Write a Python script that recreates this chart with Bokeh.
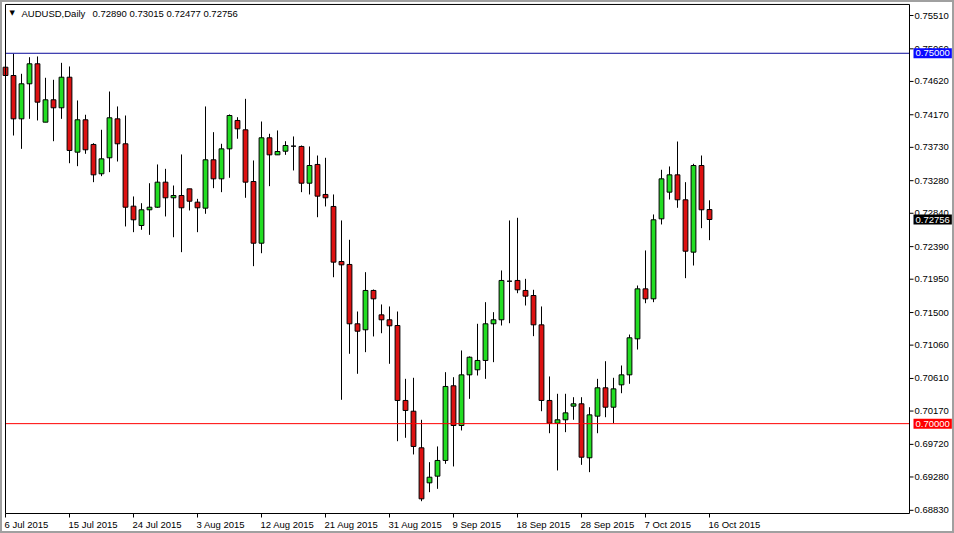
from bokeh.plotting import figure
from bokeh.models import ColumnDataSource, Range1d, Label
from bokeh.core.properties import value
from bokeh.embed import file_html
from bokeh.resources import INLINE

# ---------------- data (AUDUSD daily, 6 Jul 2015 - 16 Oct 2015, incl. Sunday bars) -------------
opens = [0.74812, 0.74700, 0.74115, 0.74588, 0.74858, 0.74070, 0.74372, 0.74264, 0.74677, 0.73665,
         0.74102, 0.73769, 0.73373, 0.73589, 0.74115, 0.73778, 0.72936, 0.72675, 0.72887, 0.72922,
         0.73260, 0.73049, 0.73080, 0.73170, 0.72990, 0.72909, 0.73562, 0.73305, 0.73710, 0.74093,
         0.73967, 0.73269, 0.72436, 0.73859, 0.73629, 0.73678, 0.73746, 0.73742, 0.73246, 0.73499,
         0.73094, 0.72932, 0.72189, 0.72149, 0.71348, 0.71267, 0.71798, 0.71469, 0.71402, 0.71325,
         0.70313, 0.70168, 0.69674, 0.69201, 0.69291, 0.69503, 0.70511, 0.69975, 0.70659, 0.70727,
         0.70853, 0.71348, 0.71402, 0.71923, 0.71933, 0.71798, 0.71730, 0.71334, 0.70313, 0.70006,
         0.70052, 0.70236, 0.70268, 0.69539, 0.70101, 0.70484, 0.70222, 0.70524, 0.70659, 0.71145,
         0.71820, 0.71685, 0.72765, 0.73125, 0.73359, 0.73022, 0.72315, 0.73485, 0.72890]
highs = [0.75321, 0.74993, 0.74723, 0.74947, 0.74957, 0.74669, 0.74642, 0.74871, 0.74822, 0.74363,
         0.74170, 0.73786, 0.73967, 0.74484, 0.74282, 0.74160, 0.73067, 0.72976, 0.73246, 0.73499,
         0.73440, 0.73215, 0.73634, 0.73170, 0.73035, 0.74282, 0.73935, 0.73778, 0.74174, 0.74137,
         0.74385, 0.73553, 0.74079, 0.73913, 0.73958, 0.73813, 0.73877, 0.73755, 0.73742, 0.73620,
         0.73589, 0.73094, 0.72743, 0.72482, 0.71514, 0.72045, 0.71811, 0.71609, 0.71582, 0.71514,
         0.70605, 0.70619, 0.70052, 0.69480, 0.69692, 0.70695, 0.70627, 0.70988, 0.70907, 0.71348,
         0.71640, 0.71505, 0.72068, 0.72743, 0.72779, 0.71955, 0.71807, 0.71582, 0.70637, 0.70403,
         0.70403, 0.70357, 0.70357, 0.70222, 0.70605, 0.70843, 0.70619, 0.70785, 0.71203, 0.71865,
         0.72338, 0.72824, 0.73427, 0.73472, 0.73809, 0.73260, 0.73508, 0.73620, 0.73015]
lows = [0.74633, 0.73890, 0.73710, 0.74115, 0.74093, 0.74070, 0.73813, 0.74115, 0.73516, 0.73476,
        0.73643, 0.73260, 0.73341, 0.73395, 0.73539, 0.72662, 0.72585, 0.72617, 0.72549, 0.72914,
        0.72797, 0.72517, 0.72315, 0.72878, 0.72585, 0.72833, 0.73179, 0.73125, 0.73319, 0.73846,
        0.73049, 0.72126, 0.72301, 0.73206, 0.73629, 0.73629, 0.73418, 0.73125, 0.73094, 0.72787,
        0.72932, 0.71977, 0.70322, 0.70943, 0.70673, 0.70965, 0.71177, 0.71221, 0.70808, 0.69763,
        0.69809, 0.69584, 0.68953, 0.69075, 0.69120, 0.69458, 0.69422, 0.69908, 0.70335, 0.70650,
        0.70605, 0.70830, 0.71325, 0.71356, 0.71761, 0.71595, 0.71181, 0.70168, 0.69871, 0.69368,
        0.69885, 0.70052, 0.69444, 0.69345, 0.69871, 0.70087, 0.70006, 0.70411, 0.70538, 0.71001,
        0.71626, 0.71640, 0.72689, 0.73026, 0.72914, 0.71964, 0.72135, 0.72639, 0.72477]
closes = [0.74700, 0.74115, 0.74588, 0.74858, 0.74340, 0.74372, 0.74264, 0.74677, 0.73688, 0.74102,
          0.73697, 0.73359, 0.73575, 0.74129, 0.73778, 0.72922, 0.72752, 0.72887, 0.72922, 0.73260,
          0.73049, 0.73080, 0.72914, 0.73003, 0.72914, 0.73562, 0.73305, 0.73710, 0.74160, 0.73980,
          0.73260, 0.72436, 0.73859, 0.73629, 0.73674, 0.73755, 0.73746, 0.73246, 0.73485, 0.73071,
          0.73049, 0.72180, 0.72144, 0.71348, 0.71248, 0.71798, 0.71685, 0.71402, 0.71321, 0.70313,
          0.70178, 0.69692, 0.68985, 0.69277, 0.69503, 0.70502, 0.69975, 0.70659, 0.70897, 0.70853,
          0.71348, 0.71402, 0.71933, 0.71923, 0.71807, 0.71721, 0.71334, 0.70313, 0.70006, 0.70052,
          0.70146, 0.70268, 0.69547, 0.70119, 0.70484, 0.70222, 0.70470, 0.70659, 0.71159, 0.71820,
          0.71685, 0.72752, 0.73305, 0.73359, 0.73022, 0.72328, 0.73485, 0.72887, 0.72756]

date_tick_idx = [0, 8, 16, 24, 32, 40, 48, 56, 64, 72, 80, 88]
date_tick_labels = ["6 Jul 2015", "15 Jul 2015", "24 Jul 2015", "3 Aug 2015", "12 Aug 2015",
                    "21 Aug 2015", "31 Aug 2015", "9 Sep 2015", "18 Sep 2015", "28 Sep 2015",
                    "7 Oct 2015", "16 Oct 2015"]
price_ticks = [0.75510, 0.75060, 0.74620, 0.74170, 0.73730, 0.73280, 0.72840, 0.72390,
               0.71950, 0.71500, 0.71060, 0.70610, 0.70170, 0.69720, 0.69280, 0.68830]
level_high = 0.75000
level_low = 0.70000
symbol_title = "AUDUSD,Daily"

# ---------------- layout / styling --------------------------------------------------------------
FONT = "Liberation Sans"
FS = "9.5px"
BULL = "#22dd22"
BEAR = "#dd1111"

# whole canvas is the plotting frame; the MetaTrader chart box is drawn inside it
X_LO, X_HI = -0.625, 118.625          # bar-index units (8 px per bar)
Y_LO, Y_HI = 0.68517, 0.757125        # price units
BOX_L, BOX_R = 0, 113                 # chart box edges (bar-index units)
BOX_B, BOX_T = 0.68787, 0.75659       # chart box edges (price units)
TICK_X = 0.5                          # 4 px tick length, in bar units
TICK_Y = 0.00054                      # 4 px tick length, in price units

idx = list(range(len(opens)))
src = ColumnDataSource(dict(
    idx=idx, open=opens, high=highs, low=lows, close=closes,
    top=[max(o, c) for o, c in zip(opens, closes)],
    bottom=[min(o, c) for o, c in zip(opens, closes)],
    color=[BULL if c >= o else BEAR for o, c in zip(opens, closes)],
))

p = figure(width=954, height=533, output_backend="svg", toolbar_location=None,
           x_range=Range1d(X_LO, X_HI), y_range=Range1d(Y_LO, Y_HI),
           x_axis_location=None, y_axis_location=None, min_border=0)
p.grid.visible = False
p.outline_line_color = "#a0a0a0"
p.outline_line_width = 3
p.background_fill_color = "white"
p.border_fill_color = "white"

# candles
p.segment(x0="idx", y0="low", x1="idx", y1="high", source=src, line_color="black", line_width=1)
p.vbar(x="idx", width=0.6, top="top", bottom="bottom", source=src,
       fill_color="color", line_color="black", line_width=1)

# horizontal levels across the chart box
p.segment(x0=[BOX_L], x1=[BOX_R], y0=[level_high], y1=[level_high], line_color="#0a0a9a", line_width=1)
p.segment(x0=[BOX_L], x1=[BOX_R], y0=[level_low], y1=[level_low], line_color="#ff0000", line_width=1)

# chart box
p.quad(left=[BOX_L], right=[BOX_R], bottom=[BOX_B], top=[BOX_T],
       fill_color=None, line_color="black", line_width=1)

# price scale (right)
p.segment(x0=[BOX_R] * len(price_ticks), x1=[BOX_R + TICK_X] * len(price_ticks),
          y0=price_ticks, y1=price_ticks, line_color="black", line_width=1)
p.text(x=[BOX_R] * len(price_ticks), y=price_ticks, text=["%.5f" % t for t in price_ticks],
       x_offset=5, text_align="left", text_baseline="middle",
       text_font=value(FONT), text_font_size=value(FS), text_color="black")

# time scale (bottom)
p.segment(x0=date_tick_idx, x1=date_tick_idx, y0=[BOX_B] * len(date_tick_idx),
          y1=[BOX_B - TICK_Y] * len(date_tick_idx), line_color="black", line_width=1)
p.text(x=date_tick_idx, y=[BOX_B] * len(date_tick_idx), text=date_tick_labels,
       x_offset=-1, y_offset=5, text_align="left", text_baseline="top",
       text_font=value(FONT), text_font_size=value(FS), text_color="black")

# price tags on the right scale
for val, bg in [(level_high, "#0a0aff"), (level_low, "#ff0000"), (closes[-1], "#000000")]:
    p.add_layout(Label(x=BOX_R, y=val, x_units="data", y_units="data", x_offset=4,
                       text="%.5f" % val, text_align="left", text_baseline="middle",
                       text_font=FONT, text_font_size=FS, text_color="white",
                       background_fill_color=bg, background_fill_alpha=1.0,
                       border_line_color=None, padding=2))

# header
p.add_layout(Label(x=BOX_L, y=BOX_T, x_offset=4, y_offset=-9, text="\u25bc",
                   text_align="left", text_baseline="middle",
                   text_font="DejaVu Sans", text_font_size="7px", text_color="black"))
p.add_layout(Label(x=BOX_L, y=BOX_T, x_offset=16, y_offset=-9, text=symbol_title,
                   text_align="left", text_baseline="middle",
                   text_font=FONT, text_font_size=FS, text_color="black"))
p.add_layout(Label(x=BOX_L, y=BOX_T, x_offset=87, y_offset=-9,
                   text="%.5f %.5f %.5f %.5f" % (opens[-1], highs[-1], lows[-1], closes[-1]),
                   text_align="left", text_baseline="middle",
                   text_font=FONT, text_font_size=FS, text_color="black"))

open("out.html", "w").write(file_html(p, INLINE))
